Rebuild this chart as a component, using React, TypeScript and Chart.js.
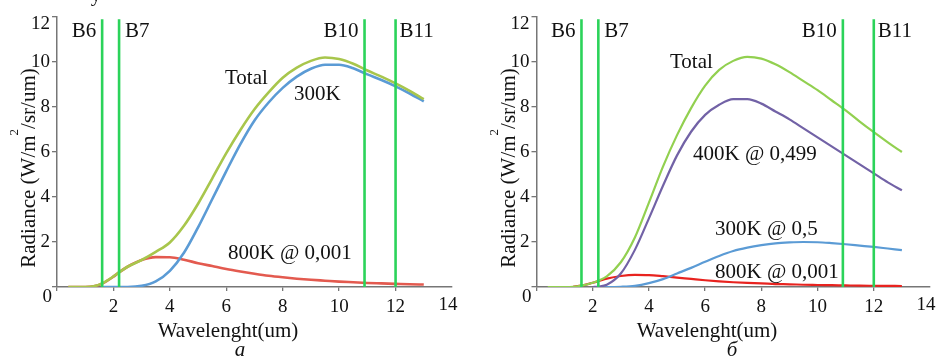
import React, { useEffect, useRef } from 'react';
import { Chart, registerables } from 'chart.js';

Chart.register(...registerables);

// ---------- data ----------
const WAVELENGTH = [0.4, 1.0, 1.3, 1.6, 2.0, 2.2, 2.5, 3.0, 3.5, 4.0, 4.5, 5.0, 5.5, 6.0, 6.5, 7.0, 7.5, 8.0, 8.5, 9.0, 9.5, 10.0, 10.5, 11.0, 11.5, 12.0, 12.5, 13.0];

// panel a
const A_TOTAL = [0, 0, 0.03, 0.16, 0.47, 0.65, 0.9, 1.2, 1.56, 1.98, 2.72, 3.7, 4.82, 5.95, 6.98, 7.9, 8.65, 9.3, 9.75, 10.05, 10.2, 10.13, 9.92, 9.62, 9.35, 9.05, 8.72, 8.35];
const A_300K = [null, null, null, 0, 0, 0, 0, 0.05, 0.25, 0.72, 1.52, 2.65, 3.9, 5.15, 6.35, 7.4, 8.2, 8.85, 9.35, 9.7, 9.88, 9.88, 9.72, 9.45, 9.2, 8.92, 8.6, 8.25];
const A_800K = [0, 0, 0.03, 0.15, 0.46, 0.65, 0.9, 1.2, 1.33, 1.32, 1.21, 1.06, 0.93, 0.8, 0.69, 0.59, 0.5, 0.43, 0.37, 0.32, 0.28, 0.24, 0.21, 0.18, 0.16, 0.14, 0.12, 0.11];

// panel б
const B_TOTAL = [0, 0, 0.01, 0.06, 0.19, 0.28, 0.47, 1.1, 2.2, 3.75, 5.35, 6.75, 7.95, 8.95, 9.65, 10.05, 10.23, 10.15, 9.9, 9.55, 9.15, 8.75, 8.3, 7.85, 7.35, 6.88, 6.43, 6.0];
const B_400K = [null, null, null, null, 0, 0.02, 0.1, 0.6, 1.65, 3.05, 4.5, 5.85, 6.9, 7.65, 8.1, 8.35, 8.35, 8.15, 7.8, 7.45, 7.05, 6.65, 6.25, 5.85, 5.45, 5.05, 4.65, 4.3];
const B_300K = [null, null, null, null, null, 0, 0, 0.01, 0.05, 0.17, 0.35, 0.6, 0.85, 1.12, 1.38, 1.6, 1.75, 1.86, 1.94, 1.98, 2.0, 1.99, 1.95, 1.9, 1.84, 1.78, 1.71, 1.64];
const B_800K = [null, null, 0.01, 0.06, 0.19, 0.26, 0.37, 0.49, 0.54, 0.53, 0.48, 0.42, 0.36, 0.3, 0.25, 0.21, 0.18, 0.16, 0.13, 0.12, 0.1, 0.09, 0.08, 0.07, 0.06, 0.055, 0.05, 0.045];

const BANDS = [1.6, 2.2, 10.9, 12.0];
const BAND_NAMES = ['B6', 'B7', 'B10', 'B11'];
const BAND_TOP = 11.9;

const X_TICKS = [0, 2, 4, 6, 8, 10, 12, 14];
const Y_TICKS = [0, 2, 4, 6, 8, 10, 12];
const X_MAX = 14;
const Y_MAX = 12;

const X_TITLE = 'Wavelenght(um)';
const Y_TITLE_PARTS = ['Radiance (W/m', '2', '/sr/um)'];

// ---------- styling ----------
const FAMILY = 'Liberation Serif';
const FONT = `"${FAMILY}"`;
const AXIS = '#767676';
const BAND_COLOR = '#2bd35a';
const TXT = '#111111';

Chart.defaults.font.family = FONT;

const pts = (vals: (number | null)[]) => WAVELENGTH.map((x, i) => ({ x, y: vals[i] }));

type Label = { text: string; x: number; y: number };

const annotPlugin = {
  id: 'annot',
  afterDraw(chart: any, _args: any, opts: any) {
    const ctx: CanvasRenderingContext2D = chart.ctx;
    const xs = chart.scales.x;
    const area = chart.chartArea;
    ctx.save();
    ctx.fillStyle = TXT;
    ctx.textBaseline = 'alphabetic';
    ctx.font = `21px ${FONT}`;
    BANDS.forEach((b, i) => {
      const px = xs.getPixelForValue(b);
      const right = i === 0 || i === 2;
      ctx.textAlign = right ? 'right' : 'left';
      ctx.fillText(BAND_NAMES[i], right ? px - 6 : px + (i === 3 ? 4 : 6), 37);
    });
    ctx.textAlign = 'left';
    (opts.labels as Label[]).forEach((l) => ctx.fillText(l.text, l.x, l.y));
    // end tick labels that sit inward of their ticks in the original
    ctx.font = `19px ${FONT}`;
    ctx.textAlign = 'right';
    ctx.fillText('0', area.left - 5, 302);
    ctx.textBaseline = 'middle';
    ctx.fillText(String(Y_MAX), area.left - 7, 24);
    ctx.textAlign = 'center';
    ctx.fillText(String(X_MAX), xs.getPixelForValue(X_MAX) - 4, 305);
    ctx.textBaseline = 'alphabetic';
    ctx.font = `21px ${FONT}`;
    ctx.fillText(X_TITLE, opts.xTitleX, 337);
    ctx.font = `italic 21px ${FONT}`;
    ctx.fillText(opts.caption, opts.captionX, 356);
    if (opts.extra) {
      ctx.font = `21px ${FONT}`;
      ctx.fillText(opts.extra.text, opts.extra.x, opts.extra.y);
    }
    const main = `21px ${FONT}`;
    const sup = `13px ${FONT}`;
    ctx.font = main;
    const w1 = ctx.measureText(Y_TITLE_PARTS[0]).width;
    const w3 = ctx.measureText(Y_TITLE_PARTS[2]).width;
    ctx.font = sup;
    const w2 = ctx.measureText(Y_TITLE_PARTS[1]).width;
    const total = w1 + w2 + w3;
    ctx.translate(opts.yTitleX, 168);
    ctx.rotate(-Math.PI / 2);
    ctx.textAlign = 'left';
    let x = -total / 2;
    ctx.font = main;
    ctx.fillText(Y_TITLE_PARTS[0], x, 0);
    x += w1;
    ctx.font = sup;
    ctx.fillText(Y_TITLE_PARTS[1], x, -17);
    x += w2;
    ctx.font = main;
    ctx.fillText(Y_TITLE_PARTS[2], x, 0);
    ctx.restore();
  },
};

function curve(label: string, vals: (number | null)[], color: string, width: number) {
  return {
    label,
    data: pts(vals),
    borderColor: color,
    backgroundColor: color,
    borderWidth: width,
    pointRadius: 0,
    fill: false,
    cubicInterpolationMode: 'monotone' as const,
    spanGaps: false,
  };
}

function bandSets() {
  return BANDS.map((b, i) => ({
    label: BAND_NAMES[i],
    data: [
      { x: b, y: 0 },
      { x: b, y: BAND_TOP },
    ],
    borderColor: BAND_COLOR,
    borderWidth: 2.6,
    pointRadius: 0,
    tension: 0,
    fill: false,
  }));
}

function makeOptions(yWidth: number, rightPad: number, annot: any) {
  return {
    responsive: false,
    animation: false,
    devicePixelRatio: 1,
    layout: { padding: { left: 0, top: 17, right: rightPad, bottom: 0 } },
    plugins: {
      legend: { display: false },
      tooltip: { enabled: false },
      annot,
    },
    scales: {
      x: {
        type: 'linear',
        min: 0,
        max: X_MAX,
        afterBuildTicks: (s: any) => {
          s.ticks = X_TICKS.map((v) => ({ value: v }));
        },
        afterFit: (s: any) => {
          s.height = 71;
        },
        grid: {
          drawOnChartArea: false,
          drawTicks: true,
          tickLength: 4,
          tickColor: (c: any) => (c.tick && c.tick.value === X_MAX ? 'rgba(0,0,0,0)' : AXIS),
          lineWidth: 1.3,
        },
        border: { color: AXIS, width: 1.5 },
        ticks: {
          autoSkip: false,
          maxRotation: 0,
          padding: 5,
          color: TXT,
          font: { family: FONT, size: 19 },
          callback: (v: any) => (v === 0 || v === X_MAX ? '' : String(v)),
        },
      },
      y: {
        type: 'linear',
        min: 0,
        max: Y_MAX,
        afterBuildTicks: (s: any) => {
          s.ticks = Y_TICKS.map((v) => ({ value: v }));
        },
        afterFit: (s: any) => {
          s.width = yWidth;
        },
        grid: {
          drawOnChartArea: false,
          drawTicks: true,
          tickLength: 5,
          tickColor: AXIS,
          lineWidth: 1.3,
        },
        border: { color: AXIS, width: 1.5 },
        ticks: {
          padding: 2,
          color: TXT,
          font: { family: FONT, size: 19 },
          callback: (v: any) => (v === 0 || v === Y_MAX ? '' : String(v)),
        },
      },
    },
  };
}

function Panel({ left, width, build }: { left: number; width: number; build: (c: HTMLCanvasElement) => Chart }) {
  const ref = useRef<HTMLCanvasElement | null>(null);
  useEffect(() => {
    if (!ref.current) return;
    const chart = build(ref.current);
    return () => chart.destroy();
  }, []);
  return (
    <canvas
      ref={ref}
      width={width}
      height={358}
      style={{ position: 'absolute', left, top: 0, width, height: 358 }}
    />
  );
}

function buildA(canvas: HTMLCanvasElement) {
  return new Chart(canvas, {
    type: 'line',
    data: {
      datasets: [
        ...bandSets(),
        curve('Total', A_TOTAL, '#a8c64c', 2.6),
        curve('300K', A_300K, '#5b9bd5', 2.6),
        curve('800K @ 0,001', A_800K, '#e35a4f', 2.6),
      ] as any,
    },
    options: makeOptions(57, 18, {
      labels: [
        { text: 'Total', x: 225, y: 84 },
        { text: '300K', x: 294, y: 100 },
        { text: '800K @ 0,001', x: 228, y: 259 },
      ],
      xTitleX: 228,
      caption: 'a',
      captionX: 240,
      yTitleX: 35,
      extra: { text: 'у', x: 96, y: 1 },
    }) as any,
    plugins: [annotPlugin],
  });
}

function buildB(canvas: HTMLCanvasElement) {
  return new Chart(canvas, {
    type: 'line',
    data: {
      datasets: [
        ...bandSets(),
        curve('Total', B_TOTAL, '#92d050', 2.2),
        curve('400K @ 0,499', B_400K, '#7262a6', 2.2),
        curve('300K @ 0,5', B_300K, '#5b9bd5', 2.2),
        curve('800K @ 0,001', B_800K, '#e8231f', 2.2),
      ] as any,
    },
    options: makeOptions(66.5, 9, {
      labels: [
        { text: 'Total', x: 200, y: 68 },
        { text: '400K @ 0,499', x: 223, y: 160 },
        { text: '300K @ 0,5', x: 245, y: 235 },
        { text: '800K @ 0,001', x: 245, y: 278 },
      ],
      xTitleX: 237,
      caption: 'б',
      captionX: 262,
      yTitleX: 45,
    }) as any,
    plugins: [annotPlugin],
  });
}

export default function App() {
  return (
    <div style={{ position: 'fixed', left: 0, top: 0, width: 939, height: 358, background: '#ffffff', overflow: 'hidden' }}>
      <Panel left={0} width={470} build={buildA} />
      <Panel left={470} width={469} build={buildB} />
    </div>
  );
}
